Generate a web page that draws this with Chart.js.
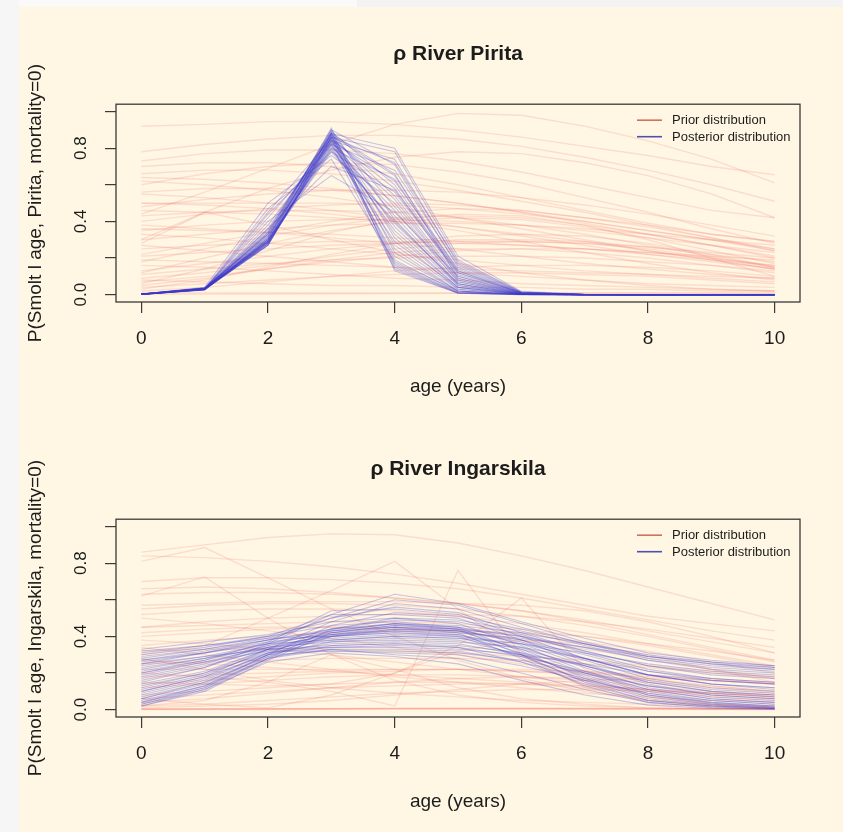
<!DOCTYPE html>
<html>
<head>
<meta charset="utf-8">
<script src="https://cdn.jsdelivr.net/npm/chart.js@4.4.1/dist/chart.umd.min.js"></script>
<style>
  html, body { margin: 0; padding: 0; }
  body { width: 843px; height: 832px; background: #fff7e4; position: relative; overflow: hidden; }
  .strip { position: absolute; }
  .panel { position: absolute; left: 0; width: 843px; height: 415px; }
</style>
</head>
<body>
<div class="strip" style="left:0;top:0;width:357px;height:7px;background:#fafaf8"></div>
<div class="strip" style="left:357px;top:0;width:486px;height:7px;background:#f3f3f3"></div>
<div class="strip" style="left:0;top:0;width:19px;height:832px;background:#f6f6f6"></div>
<div class="panel" style="top:0"><canvas id="pirita"></canvas></div>
<div class="panel" style="top:415px"><canvas id="ingarskila"></canvas></div>
<script>
// ages on the x axis
var ages = [0, 1, 2, 3, 4, 5, 6, 7, 8, 9, 10]
var xTicks = [0, 2, 4, 6, 8, 10]
var xTickLabels = ['0', '2', '4', '6', '8', '10']
var yTicks = [0, 0.2, 0.4, 0.6, 0.8, 1.0]
var yTickLabels = ['0.0', '', '0.4', '', '0.8', '']
var legendLabels = ['Prior distribution', 'Posterior distribution']

// River Pirita - prior draws
var piritaPrior = [
  [0.92, 0.93, 0.945, 0.945, 0.93, 0.90, 0.86, 0.81, 0.76, 0.70, 0.655],
  [0.44, 0.56, 0.69, 0.82, 0.93, 0.99, 0.98, 0.92, 0.84, 0.74, 0.61],
  [0.78, 0.82, 0.85, 0.87, 0.87, 0.85, 0.81, 0.75, 0.68, 0.60, 0.51],
  [0.73, 0.77, 0.79, 0.79, 0.77, 0.73, 0.67, 0.60, 0.53, 0.46, 0.42],
  [0.70, 0.72, 0.72, 0.70, 0.66, 0.60, 0.53, 0.46, 0.39, 0.33, 0.29],
  [0.66, 0.68, 0.68, 0.66, 0.62, 0.57, 0.51, 0.45, 0.38, 0.31, 0.24],
  [0.60, 0.66, 0.70, 0.72, 0.71, 0.67, 0.61, 0.53, 0.45, 0.36, 0.28],
  [0.62, 0.60, 0.57, 0.53, 0.48, 0.42, 0.36, 0.30, 0.24, 0.19, 0.14],
  [0.56, 0.58, 0.58, 0.57, 0.54, 0.50, 0.45, 0.39, 0.33, 0.27, 0.21],
  [0.50, 0.50, 0.50, 0.50, 0.49, 0.47, 0.44, 0.40, 0.35, 0.30, 0.24],
  [0.50, 0.49, 0.47, 0.44, 0.40, 0.35, 0.29, 0.23, 0.17, 0.12, 0.08],
  [0.46, 0.45, 0.44, 0.42, 0.40, 0.37, 0.33, 0.29, 0.24, 0.19, 0.14],
  [0.43, 0.45, 0.46, 0.46, 0.45, 0.42, 0.38, 0.33, 0.27, 0.21, 0.15],
  [0.40, 0.44, 0.47, 0.49, 0.50, 0.49, 0.46, 0.42, 0.38, 0.33, 0.29],
  [0.38, 0.36, 0.34, 0.31, 0.28, 0.25, 0.21, 0.17, 0.14, 0.11, 0.09],
  [0.35, 0.38, 0.40, 0.41, 0.41, 0.40, 0.38, 0.35, 0.31, 0.27, 0.23],
  [0.33, 0.31, 0.28, 0.25, 0.22, 0.19, 0.16, 0.13, 0.11, 0.09, 0.07],
  [0.30, 0.33, 0.36, 0.38, 0.39, 0.39, 0.38, 0.36, 0.33, 0.30, 0.27],
  [0.28, 0.45, 0.38, 0.30, 0.23, 0.17, 0.12, 0.08, 0.05, 0.03, 0.02],
  [0.25, 0.27, 0.28, 0.29, 0.29, 0.28, 0.27, 0.25, 0.23, 0.21, 0.19],
  [0.22, 0.28, 0.34, 0.40, 0.45, 0.47, 0.46, 0.42, 0.37, 0.31, 0.25],
  [0.19, 0.18, 0.17, 0.16, 0.15, 0.14, 0.13, 0.12, 0.11, 0.10, 0.09],
  [0.18, 0.25, 0.32, 0.38, 0.42, 0.43, 0.42, 0.38, 0.33, 0.27, 0.20],
  [0.13, 0.17, 0.21, 0.25, 0.28, 0.30, 0.30, 0.29, 0.26, 0.22, 0.18],
  [0.11, 0.14, 0.17, 0.19, 0.20, 0.21, 0.21, 0.20, 0.18, 0.16, 0.13],
  [0.09, 0.12, 0.16, 0.21, 0.25, 0.28, 0.29, 0.28, 0.25, 0.20, 0.15],
  [0.07, 0.10, 0.14, 0.18, 0.21, 0.24, 0.25, 0.25, 0.23, 0.20, 0.16],
  [0.05, 0.09, 0.14, 0.19, 0.23, 0.25, 0.25, 0.23, 0.20, 0.16, 0.12],
  [0.04, 0.06, 0.08, 0.10, 0.11, 0.12, 0.12, 0.11, 0.10, 0.08, 0.06],
  [0.02, 0.04, 0.07, 0.10, 0.13, 0.15, 0.16, 0.16, 0.15, 0.13, 0.10],
  [0.01, 0.01, 0.01, 0.01, 0.01, 0.01, 0.01, 0.01, 0.01, 0.01, 0.01],
  [0.003, 0.003, 0.004, 0.005, 0.006, 0.007, 0.008, 0.008, 0.008, 0.007, 0.006],
  [0.30, 0.45, 0.58, 0.68, 0.75, 0.78, 0.77, 0.72, 0.65, 0.55, 0.42],
  [0.06, 0.14, 0.24, 0.34, 0.41, 0.44, 0.43, 0.38, 0.30, 0.20, 0.10],
  [0.64, 0.63, 0.61, 0.58, 0.54, 0.50, 0.45, 0.40, 0.35, 0.30, 0.25],
  [0.55, 0.53, 0.50, 0.46, 0.42, 0.37, 0.32, 0.27, 0.22, 0.18, 0.14],
  [0.48, 0.52, 0.55, 0.57, 0.57, 0.56, 0.53, 0.49, 0.44, 0.38, 0.32],
  [0.36, 0.35, 0.34, 0.33, 0.31, 0.29, 0.27, 0.25, 0.22, 0.19, 0.16],
  [0.27, 0.24, 0.21, 0.18, 0.15, 0.12, 0.10, 0.08, 0.06, 0.05, 0.04],
  [0.21, 0.23, 0.25, 0.27, 0.28, 0.29, 0.29, 0.28, 0.26, 0.23, 0.20],
  [0.16, 0.15, 0.13, 0.11, 0.09, 0.08, 0.06, 0.05, 0.04, 0.03, 0.02],
  [0.12, 0.20, 0.28, 0.35, 0.40, 0.42, 0.41, 0.37, 0.31, 0.24, 0.17],
  [0.08, 0.07, 0.06, 0.05, 0.05, 0.04, 0.04, 0.03, 0.03, 0.02, 0.02],
  [0.03, 0.08, 0.15, 0.22, 0.28, 0.32, 0.33, 0.32, 0.28, 0.22, 0.15]
]

// River Pirita - posterior draws
var piritaPosterior = [
  [0.002, 0.030, 0.29, 0.88, 0.80, 0.21, 0.018, 0.002, 0, 0, 0],
  [0.001, 0.028, 0.27, 0.86, 0.78, 0.19, 0.015, 0.001, 0, 0, 0],
  [0.003, 0.035, 0.33, 0.84, 0.74, 0.17, 0.012, 0.001, 0, 0, 0],
  [0.002, 0.032, 0.31, 0.90, 0.71, 0.15, 0.010, 0.001, 0, 0, 0],
  [0.001, 0.026, 0.28, 0.82, 0.68, 0.16, 0.012, 0.001, 0, 0, 0],
  [0.004, 0.038, 0.36, 0.87, 0.65, 0.13, 0.008, 0, 0, 0, 0],
  [0.002, 0.030, 0.30, 0.80, 0.63, 0.12, 0.009, 0, 0, 0, 0],
  [0.003, 0.034, 0.34, 0.89, 0.60, 0.11, 0.007, 0, 0, 0, 0],
  [0.002, 0.031, 0.45, 0.85, 0.58, 0.10, 0.006, 0, 0, 0, 0],
  [0.001, 0.027, 0.29, 0.78, 0.56, 0.12, 0.010, 0.001, 0, 0, 0],
  [0.003, 0.036, 0.32, 0.86, 0.54, 0.09, 0.005, 0, 0, 0, 0],
  [0.002, 0.029, 0.28, 0.83, 0.52, 0.08, 0.006, 0, 0, 0, 0],
  [0.004, 0.040, 0.50, 0.76, 0.50, 0.08, 0.004, 0, 0, 0, 0],
  [0.002, 0.033, 0.35, 0.88, 0.48, 0.07, 0.005, 0, 0, 0, 0],
  [0.001, 0.028, 0.30, 0.81, 0.46, 0.07, 0.004, 0, 0, 0, 0],
  [0.003, 0.035, 0.40, 0.65, 0.45, 0.10, 0.008, 0.001, 0, 0, 0],
  [0.002, 0.030, 0.27, 0.84, 0.43, 0.06, 0.004, 0, 0, 0, 0],
  [0.002, 0.032, 0.33, 0.90, 0.41, 0.05, 0.003, 0, 0, 0, 0],
  [0.003, 0.034, 0.29, 0.79, 0.39, 0.06, 0.004, 0, 0, 0, 0],
  [0.001, 0.027, 0.31, 0.86, 0.37, 0.05, 0.003, 0, 0, 0, 0],
  [0.002, 0.031, 0.42, 0.82, 0.35, 0.04, 0.002, 0, 0, 0, 0],
  [0.003, 0.036, 0.28, 0.85, 0.33, 0.04, 0.002, 0, 0, 0, 0],
  [0.002, 0.029, 0.34, 0.88, 0.31, 0.03, 0.002, 0, 0, 0, 0],
  [0.001, 0.026, 0.30, 0.80, 0.29, 0.04, 0.003, 0, 0, 0, 0],
  [0.003, 0.033, 0.27, 0.87, 0.27, 0.03, 0.002, 0, 0, 0, 0],
  [0.002, 0.030, 0.38, 0.84, 0.25, 0.02, 0.001, 0, 0, 0, 0],
  [0.002, 0.032, 0.29, 0.89, 0.23, 0.02, 0.001, 0, 0, 0, 0],
  [0.003, 0.035, 0.32, 0.83, 0.21, 0.02, 0.001, 0, 0, 0, 0],
  [0.001, 0.028, 0.28, 0.86, 0.19, 0.015, 0.001, 0, 0, 0, 0],
  [0.002, 0.031, 0.47, 0.74, 0.18, 0.02, 0.001, 0, 0, 0, 0],
  [0.003, 0.034, 0.30, 0.88, 0.17, 0.012, 0.001, 0, 0, 0, 0],
  [0.002, 0.030, 0.27, 0.85, 0.16, 0.010, 0.001, 0, 0, 0, 0],
  [0.002, 0.033, 0.33, 0.87, 0.15, 0.010, 0.001, 0, 0, 0, 0],
  [0.001, 0.027, 0.29, 0.82, 0.14, 0.008, 0, 0, 0, 0, 0],
  [0.003, 0.036, 0.31, 0.91, 0.13, 0.008, 0, 0, 0, 0, 0],
  [0.002, 0.031, 0.28, 0.84, 0.62, 0.14, 0.011, 0.001, 0, 0, 0],
  [0.002, 0.029, 0.36, 0.70, 0.57, 0.13, 0.010, 0.001, 0, 0, 0],
  [0.003, 0.034, 0.30, 0.88, 0.66, 0.09, 0.006, 0, 0, 0, 0],
  [0.001, 0.028, 0.44, 0.78, 0.40, 0.06, 0.004, 0, 0, 0, 0],
  [0.002, 0.032, 0.29, 0.86, 0.72, 0.18, 0.014, 0.001, 0, 0, 0]
]

// River Ingarskila - prior draws
var ingarskilaPrior = [
  [0.86, 0.90, 0.94, 0.96, 0.955, 0.91, 0.84, 0.76, 0.67, 0.58, 0.49],
  [0.81, 0.885, 0.72, 0.55, 0.40, 0.27, 0.17, 0.10, 0.05, 0.03, 0.02],
  [0.84, 0.83, 0.81, 0.78, 0.74, 0.69, 0.63, 0.57, 0.51, 0.47, 0.43],
  [0.70, 0.72, 0.72, 0.71, 0.69, 0.66, 0.61, 0.55, 0.49, 0.43, 0.38],
  [0.62, 0.725, 0.50, 0.30, 0.16, 0.08, 0.04, 0.02, 0.01, 0.005, 0.003],
  [0.66, 0.67, 0.66, 0.64, 0.61, 0.58, 0.54, 0.48, 0.41, 0.34, 0.27],
  [0.57, 0.58, 0.59, 0.59, 0.59, 0.58, 0.57, 0.54, 0.48, 0.40, 0.31],
  [0.52, 0.54, 0.55, 0.55, 0.54, 0.51, 0.47, 0.42, 0.36, 0.30, 0.24],
  [0.45, 0.46, 0.47, 0.48, 0.48, 0.47, 0.44, 0.40, 0.35, 0.29, 0.23],
  [0.40, 0.42, 0.44, 0.45, 0.45, 0.44, 0.41, 0.37, 0.32, 0.26, 0.20],
  [0.38, 0.36, 0.33, 0.30, 0.26, 0.22, 0.18, 0.14, 0.11, 0.08, 0.06],
  [0.34, 0.30, 0.26, 0.22, 0.18, 0.15, 0.12, 0.09, 0.07, 0.05, 0.04],
  [0.30, 0.35, 0.50, 0.65, 0.81, 0.55, 0.30, 0.15, 0.07, 0.03, 0.01],
  [0.20, 0.18, 0.15, 0.10, 0.02, 0.76, 0.30, 0.12, 0.05, 0.02, 0.01],
  [0.15, 0.14, 0.13, 0.14, 0.20, 0.35, 0.61, 0.22, 0.08, 0.03, 0.01],
  [0.25, 0.26, 0.27, 0.28, 0.28, 0.28, 0.27, 0.25, 0.23, 0.20, 0.17],
  [0.22, 0.22, 0.22, 0.22, 0.22, 0.22, 0.21, 0.20, 0.18, 0.16, 0.14],
  [0.18, 0.19, 0.20, 0.21, 0.22, 0.22, 0.21, 0.19, 0.16, 0.13, 0.10],
  [0.12, 0.14, 0.16, 0.18, 0.19, 0.19, 0.18, 0.16, 0.13, 0.10, 0.07],
  [0.08, 0.10, 0.12, 0.14, 0.15, 0.15, 0.14, 0.12, 0.10, 0.07, 0.05],
  [0.04, 0.06, 0.09, 0.12, 0.15, 0.17, 0.18, 0.17, 0.15, 0.12, 0.09],
  [0.01, 0.02, 0.03, 0.05, 0.08, 0.11, 0.14, 0.16, 0.17, 0.16, 0.14],
  [0.002, 0.003, 0.004, 0.005, 0.006, 0.006, 0.006, 0.005, 0.004, 0.003, 0.002],
  [0.005, 0.005, 0.006, 0.006, 0.007, 0.007, 0.007, 0.006, 0.006, 0.005, 0.005],
  [0.001, 0.001, 0.001, 0.002, 0.002, 0.002, 0.002, 0.002, 0.002, 0.001, 0.001],
  [0.06, 0.03, 0.01, 0.08, 0.20, 0.32, 0.38, 0.36, 0.30, 0.22, 0.15],
  [0.02, 0.05, 0.15, 0.30, 0.22, 0.12, 0.06, 0.03, 0.01, 0.005, 0.002],
  [0.28, 0.22, 0.16, 0.12, 0.09, 0.07, 0.05, 0.04, 0.03, 0.02, 0.01],
  [0.45, 0.48, 0.50, 0.51, 0.52, 0.52, 0.51, 0.48, 0.44, 0.39, 0.34],
  [0.35, 0.38, 0.40, 0.42, 0.43, 0.43, 0.42, 0.40, 0.36, 0.32, 0.27],
  [0.63, 0.64, 0.64, 0.63, 0.61, 0.58, 0.54, 0.49, 0.43, 0.37, 0.31],
  [0.55, 0.57, 0.58, 0.58, 0.57, 0.55, 0.51, 0.46, 0.40, 0.33, 0.26],
  [0.50, 0.47, 0.43, 0.39, 0.34, 0.30, 0.25, 0.21, 0.17, 0.13, 0.10],
  [0.42, 0.44, 0.45, 0.45, 0.44, 0.42, 0.38, 0.33, 0.28, 0.22, 0.17],
  [0.32, 0.33, 0.33, 0.33, 0.32, 0.31, 0.29, 0.27, 0.24, 0.21, 0.18],
  [0.27, 0.25, 0.23, 0.21, 0.19, 0.17, 0.15, 0.13, 0.11, 0.09, 0.07],
  [0.14, 0.16, 0.18, 0.20, 0.21, 0.22, 0.22, 0.21, 0.19, 0.17, 0.14],
  [0.06, 0.08, 0.10, 0.12, 0.13, 0.14, 0.14, 0.13, 0.11, 0.09, 0.07],
  [0.02, 0.03, 0.05, 0.07, 0.09, 0.10, 0.11, 0.11, 0.10, 0.09, 0.08],
  [0.003, 0.004, 0.005, 0.006, 0.007, 0.008, 0.008, 0.008, 0.007, 0.006, 0.005]
]

// River Ingarskila - posterior draws
var ingarskilaPosterior = [
  [0.30, 0.34, 0.40, 0.52, 0.63, 0.58, 0.48, 0.39, 0.31, 0.27, 0.24],
  [0.28, 0.33, 0.39, 0.50, 0.60, 0.57, 0.47, 0.37, 0.29, 0.25, 0.23],
  [0.33, 0.37, 0.41, 0.48, 0.58, 0.55, 0.45, 0.36, 0.28, 0.24, 0.22],
  [0.25, 0.31, 0.38, 0.50, 0.56, 0.53, 0.42, 0.32, 0.24, 0.20, 0.18],
  [0.20, 0.27, 0.37, 0.54, 0.55, 0.52, 0.40, 0.28, 0.19, 0.14, 0.12],
  [0.31, 0.35, 0.40, 0.46, 0.53, 0.51, 0.44, 0.36, 0.29, 0.25, 0.22],
  [0.15, 0.23, 0.36, 0.52, 0.52, 0.50, 0.38, 0.25, 0.15, 0.10, 0.08],
  [0.27, 0.32, 0.38, 0.44, 0.50, 0.49, 0.43, 0.35, 0.27, 0.22, 0.20],
  [0.10, 0.18, 0.33, 0.48, 0.50, 0.47, 0.35, 0.21, 0.11, 0.06, 0.04],
  [0.22, 0.28, 0.36, 0.44, 0.49, 0.48, 0.41, 0.31, 0.22, 0.17, 0.15],
  [0.05, 0.13, 0.30, 0.46, 0.48, 0.45, 0.32, 0.17, 0.07, 0.03, 0.015],
  [0.29, 0.33, 0.38, 0.43, 0.47, 0.46, 0.42, 0.36, 0.30, 0.26, 0.23],
  [0.18, 0.25, 0.35, 0.43, 0.47, 0.45, 0.38, 0.28, 0.19, 0.14, 0.11],
  [0.03, 0.11, 0.28, 0.44, 0.47, 0.44, 0.30, 0.15, 0.05, 0.02, 0.008],
  [0.24, 0.29, 0.36, 0.42, 0.46, 0.45, 0.40, 0.32, 0.24, 0.19, 0.17],
  [0.12, 0.20, 0.33, 0.42, 0.46, 0.44, 0.36, 0.24, 0.14, 0.08, 0.06],
  [0.08, 0.16, 0.31, 0.43, 0.45, 0.43, 0.33, 0.20, 0.10, 0.05, 0.03],
  [0.26, 0.31, 0.37, 0.41, 0.45, 0.44, 0.40, 0.34, 0.27, 0.23, 0.21],
  [0.02, 0.10, 0.27, 0.42, 0.45, 0.42, 0.28, 0.13, 0.04, 0.012, 0.004],
  [0.16, 0.23, 0.34, 0.41, 0.44, 0.43, 0.37, 0.27, 0.17, 0.12, 0.10],
  [0.21, 0.27, 0.35, 0.40, 0.44, 0.43, 0.38, 0.30, 0.21, 0.16, 0.14],
  [0.06, 0.14, 0.30, 0.41, 0.43, 0.41, 0.31, 0.18, 0.08, 0.04, 0.02],
  [0.32, 0.35, 0.39, 0.40, 0.43, 0.42, 0.39, 0.34, 0.29, 0.26, 0.24],
  [0.11, 0.19, 0.32, 0.40, 0.42, 0.41, 0.34, 0.23, 0.12, 0.07, 0.05],
  [0.04, 0.12, 0.29, 0.40, 0.42, 0.40, 0.29, 0.16, 0.06, 0.025, 0.01],
  [0.19, 0.26, 0.34, 0.39, 0.41, 0.40, 0.36, 0.28, 0.19, 0.14, 0.12],
  [0.14, 0.21, 0.33, 0.38, 0.40, 0.39, 0.33, 0.24, 0.15, 0.10, 0.08],
  [0.27, 0.31, 0.36, 0.38, 0.40, 0.39, 0.36, 0.31, 0.25, 0.21, 0.19],
  [0.07, 0.15, 0.30, 0.37, 0.39, 0.38, 0.30, 0.19, 0.09, 0.04, 0.02],
  [0.23, 0.28, 0.34, 0.37, 0.38, 0.37, 0.34, 0.28, 0.21, 0.17, 0.15],
  [0.09, 0.17, 0.31, 0.36, 0.37, 0.36, 0.30, 0.20, 0.11, 0.06, 0.04],
  [0.17, 0.24, 0.33, 0.35, 0.36, 0.35, 0.31, 0.24, 0.16, 0.11, 0.09],
  [0.03, 0.12, 0.28, 0.35, 0.36, 0.34, 0.26, 0.14, 0.05, 0.02, 0.006],
  [0.13, 0.20, 0.31, 0.34, 0.35, 0.34, 0.29, 0.21, 0.13, 0.08, 0.06],
  [0.25, 0.29, 0.33, 0.34, 0.34, 0.33, 0.30, 0.25, 0.19, 0.16, 0.14],
  [0.06, 0.15, 0.29, 0.33, 0.33, 0.32, 0.26, 0.17, 0.08, 0.035, 0.015],
  [0.20, 0.26, 0.32, 0.32, 0.32, 0.31, 0.27, 0.20, 0.13, 0.09, 0.07],
  [0.10, 0.18, 0.30, 0.32, 0.31, 0.30, 0.24, 0.16, 0.09, 0.05, 0.03],
  [0.04, 0.13, 0.28, 0.33, 0.30, 0.28, 0.20, 0.11, 0.04, 0.015, 0.005],
  [0.02, 0.11, 0.26, 0.31, 0.29, 0.25, 0.16, 0.08, 0.025, 0.008, 0.002]
]

var priorColor = 'rgba(238, 105, 95, 0.19)'
var posteriorColor = 'rgba(60, 58, 200, 0.28)'
var legendColors = ['rgba(205, 95, 80, 0.9)', 'rgba(70, 70, 170, 0.95)']
var fontFamily = "'Liberation Sans', Arial, sans-serif"
var inkColor = '#1c1c1c'
var axisColor = '#3a3a3a'

function toPoints(vals) {
    return vals.map(function (v, i) { return { x: ages[i], y: v } })
}

// box around the plot region, like R's box()
var boxPlugin = {
    id: 'box',
    afterDatasetsDraw: function (chart) {
        var a = chart.chartArea
        var ctx = chart.ctx
        ctx.save()
        ctx.strokeStyle = axisColor
        ctx.lineWidth = 1.3
        ctx.strokeRect(a.left, a.top, a.right - a.left, a.bottom - a.top)
        ctx.restore()
    }
}

// legend in the top right corner, no frame
var legendPlugin = {
    id: 'rlegend',
    afterDraw: function (chart) {
        var a = chart.chartArea
        var ctx = chart.ctx
        ctx.save()
        ctx.font = '13px ' + fontFamily
        ctx.textBaseline = 'middle'
        ctx.textAlign = 'left'
        for (var i = 0; i < legendLabels.length; i++) {
            var y = a.top + 16 + i * 16.5
            ctx.strokeStyle = legendColors[i]
            ctx.lineWidth = 1.6
            ctx.beginPath()
            ctx.moveTo(a.right - 163, y)
            ctx.lineTo(a.right - 138, y)
            ctx.stroke()
            ctx.fillStyle = inkColor
            ctx.fillText(legendLabels[i], a.right - 128, y + 0.5)
        }
        ctx.restore()
    }
}

function makePanel(canvasId, title, yTitle, priorLines, posteriorLines) {
    var datasets = []
    priorLines.forEach(function (vals) {
        datasets.push({ data: toPoints(vals), borderColor: priorColor, borderWidth: 1.4, pointRadius: 0, tension: 0, order: 2 })
    })
    posteriorLines.forEach(function (vals) {
        datasets.push({ data: toPoints(vals), borderColor: posteriorColor, borderWidth: 1.1, pointRadius: 0, tension: 0, order: 1 })
    })

    return new Chart(document.getElementById(canvasId), {
        type: 'line',
        data: { datasets: datasets },
        plugins: [boxPlugin, legendPlugin],
        options: {
            responsive: true,
            maintainAspectRatio: false,
            animation: false,
            events: [],
            layout: { padding: { top: 0, left: 0, right: 43, bottom: 0 } },
            plugins: {
                legend: { display: false },
                tooltip: { enabled: false },
                title: {
                    display: true,
                    text: title,
                    fullSize: false,
                    color: inkColor,
                    font: { family: fontFamily, size: 21, weight: 'bold' },
                    padding: { top: 42, bottom: 37 }
                }
            },
            scales: {
                x: {
                    type: 'linear',
                    min: -0.4,
                    max: 10.4,
                    afterBuildTicks: function (axis) {
                        axis.ticks = xTicks.map(function (v) { return { value: v } })
                    },
                    afterFit: function (scale) { scale.height = 113 },
                    ticks: {
                        autoSkip: false,
                        maxRotation: 0,
                        padding: 14,
                        color: inkColor,
                        font: { family: fontFamily, size: 19 },
                        callback: function (v, i) { return xTickLabels[i] }
                    },
                    grid: { drawOnChartArea: false, drawTicks: true, tickLength: 11, color: axisColor, lineWidth: 1.2 },
                    border: { display: false },
                    title: {
                        display: true,
                        text: 'age (years)',
                        color: inkColor,
                        font: { family: fontFamily, size: 19 },
                        padding: { top: 0, bottom: 17 }
                    }
                },
                y: {
                    type: 'linear',
                    min: -0.04,
                    max: 1.04,
                    afterBuildTicks: function (axis) {
                        axis.ticks = yTicks.map(function (v) { return { value: v } })
                    },
                    afterFit: function (scale) { scale.width = 116 },
                    ticks: {
                        autoSkip: false,
                        minRotation: 90,
                        maxRotation: 90,
                        crossAlign: 'center',
                        padding: 12,
                        color: inkColor,
                        font: { family: fontFamily, size: 17 },
                        callback: function (v, i) { return yTickLabels[i] }
                    },
                    grid: { drawOnChartArea: false, drawTicks: true, tickLength: 11, color: axisColor, lineWidth: 1.2 },
                    border: { display: false },
                    title: {
                        display: true,
                        text: yTitle,
                        color: inkColor,
                        font: { family: fontFamily, size: 19 },
                        padding: { top: 24, bottom: 0 }
                    }
                }
            }
        }
    })
}

makePanel('pirita', 'ρ River Pirita', 'P(Smolt l age, Pirita, mortality=0)', piritaPrior, piritaPosterior)
makePanel('ingarskila', 'ρ River Ingarskila', 'P(Smolt l age, Ingarskila, mortality=0)', ingarskilaPrior, ingarskilaPosterior)
</script>
</body>
</html>
